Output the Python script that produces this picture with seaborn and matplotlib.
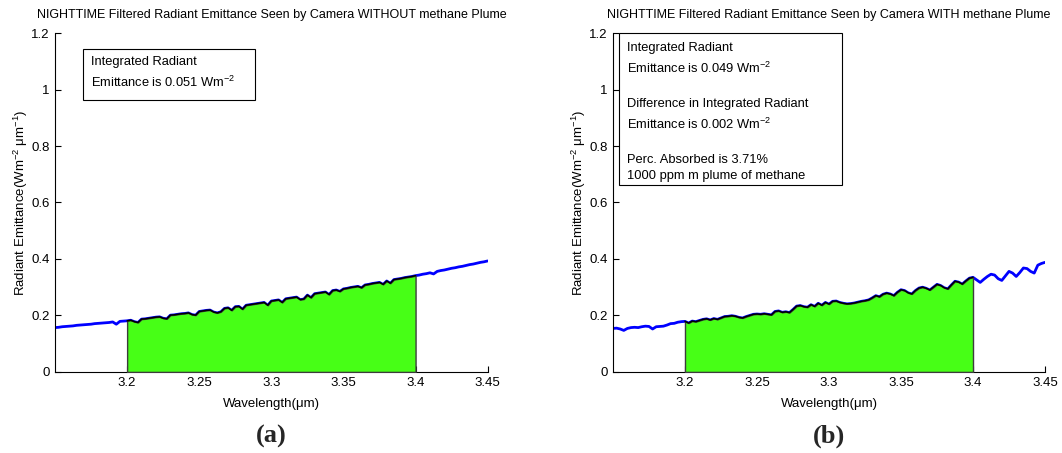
import numpy as np
import pandas as pd
import matplotlib
matplotlib.use("Agg")
import matplotlib.pyplot as plt
from matplotlib.patches import Rectangle
import seaborn as sns

# Radiant emittance spectra (Wm^-2 um^-1) sampled every 0.0025 um from 3.15 to 3.45 um
emittance_without = [
    0.157, 0.158, 0.160, 0.161, 0.162, 0.163, 0.165, 0.166, 0.167, 0.168,
    0.169, 0.171, 0.172, 0.173, 0.174, 0.175, 0.177, 0.169, 0.179, 0.180,
    0.181, 0.183, 0.178, 0.175, 0.187, 0.188, 0.190, 0.192, 0.194, 0.195,
    0.190, 0.188, 0.201, 0.202, 0.204, 0.206, 0.207, 0.209, 0.203, 0.201,
    0.214, 0.216, 0.218, 0.219, 0.212, 0.209, 0.213, 0.225, 0.227, 0.218,
    0.231, 0.232, 0.222, 0.236, 0.238, 0.240, 0.242, 0.244, 0.246, 0.236,
    0.251, 0.253, 0.255, 0.246, 0.259, 0.261, 0.263, 0.265, 0.256, 0.258,
    0.272, 0.263, 0.277, 0.279, 0.281, 0.283, 0.274, 0.288, 0.290, 0.285,
    0.294, 0.296, 0.299, 0.301, 0.303, 0.298, 0.308, 0.310, 0.313, 0.315,
    0.317, 0.310, 0.322, 0.314, 0.327, 0.329, 0.331, 0.334, 0.336, 0.338,
    0.341, 0.343, 0.346, 0.348, 0.351, 0.347, 0.356, 0.359, 0.361, 0.364,
    0.367, 0.369, 0.372, 0.374, 0.377, 0.380, 0.382, 0.385, 0.388, 0.390,
    0.393,
]
emittance_with = [
    0.154, 0.155, 0.152, 0.147, 0.154, 0.157, 0.158, 0.157, 0.160, 0.162,
    0.161, 0.152, 0.160, 0.161, 0.162, 0.166, 0.171, 0.172, 0.176, 0.178,
    0.179, 0.173, 0.180, 0.178, 0.182, 0.186, 0.188, 0.184, 0.189, 0.186,
    0.191, 0.196, 0.197, 0.199, 0.197, 0.193, 0.191, 0.196, 0.200, 0.204,
    0.205, 0.204, 0.206, 0.204, 0.202, 0.214, 0.216, 0.211, 0.213, 0.210,
    0.221, 0.233, 0.235, 0.231, 0.229, 0.238, 0.232, 0.243, 0.236, 0.246,
    0.240, 0.250, 0.251, 0.246, 0.243, 0.241, 0.242, 0.244, 0.247, 0.250,
    0.252, 0.255, 0.262, 0.270, 0.266, 0.275, 0.279, 0.276, 0.270, 0.282,
    0.291, 0.288, 0.280, 0.276, 0.288, 0.297, 0.300, 0.296, 0.290, 0.300,
    0.310, 0.306, 0.298, 0.294, 0.308, 0.321, 0.318, 0.311, 0.322, 0.332,
    0.335, 0.326, 0.317, 0.328, 0.338, 0.346, 0.343, 0.330, 0.324, 0.340,
    0.356, 0.350, 0.338, 0.352, 0.368, 0.366, 0.356, 0.350, 0.378, 0.384,
    0.388,
]
band_start, band_end = 3.20, 3.40
x_ticks = [3.2, 3.25, 3.3, 3.35, 3.4, 3.45]
x_tick_labels = ["3.2", "3.25", "3.3", "3.35", "3.4", "3.45"]
y_ticks = [0, 0.2, 0.4, 0.6, 0.8, 1.0, 1.2]
y_tick_labels = ["0", "0.2", "0.4", "0.6", "0.8", "1", "1.2"]

titles = [
    "NIGHTTIME Filtered Radiant Emittance Seen by Camera WITHOUT methane Plume",
    "NIGHTTIME Filtered Radiant Emittance Seen by Camera WITH methane Plume",
]
box_lines_left = [
    "Integrated Radiant",
    "Emittance is 0.051 Wm$^{-2}$",
]
box_lines_right = [
    "Integrated Radiant",
    "Emittance is 0.049 Wm$^{-2}$",
    "Difference in Integrated Radiant",
    "Emittance is 0.002 Wm$^{-2}$",
    "Perc. Absorbed is 3.71%",
    "1000 ppm m plume of methane",
]
panel_labels = ["(a)", "(b)"]

sns.set_theme(style="white")
plt.rcParams["font.family"] = ["Liberation Sans", "DejaVu Sans"]
plt.rcParams["mathtext.default"] = "regular"

n = len(emittance_without)
wavelength = np.linspace(3.15, 3.45, n)
frames = []
for name, vals in (("without", emittance_without), ("with", emittance_with)):
    frames.append(pd.DataFrame({"wavelength": wavelength, "emittance": vals, "case": name}))
df = pd.concat(frames, ignore_index=True)

fig = plt.figure(figsize=(10.62, 4.53), dpi=100)
ax_left = fig.add_axes([0.0518, 0.179, 0.4074, 0.748])
ax_right = fig.add_axes([0.5772, 0.179, 0.4068, 0.748])

for ax, case, title, plabel in zip(
    (ax_left, ax_right), ("without", "with"), titles, panel_labels
):
    d = df[df["case"] == case]
    band = d[(d["wavelength"] >= band_start - 1e-9) & (d["wavelength"] <= band_end + 1e-9)]

    sns.lineplot(data=d, x="wavelength", y="emittance", ax=ax,
                 color="#0000ff", lw=2.0, zorder=2)
    ax.fill_between(band["wavelength"], 0, band["emittance"],
                    facecolor="#47ff16", edgecolor="#3c3c3c", lw=1.0, zorder=3)
    sns.lineplot(data=band, x="wavelength", y="emittance", ax=ax,
                 color="black", lw=1.1, zorder=4)

    ax.set_xlim(3.15, 3.45)
    ax.set_ylim(0, 1.2)
    ax.set_xticks(x_ticks)
    ax.set_xticklabels(x_tick_labels)
    ax.set_yticks(y_ticks)
    ax.set_yticklabels(y_tick_labels)
    ax.tick_params(direction="in", length=4, width=0.8, colors="black",
                   labelsize=9.5, pad=4, left=True, bottom=True)
    for side in ("top", "right"):
        ax.spines[side].set_visible(False)
    for side in ("left", "bottom"):
        ax.spines[side].set_color("black")
        ax.spines[side].set_linewidth(0.8)

    ax.set_title(title, fontsize=9.0, pad=11, color="black")
    ax.set_xlabel("Wavelength(\u03bcm)", fontsize=9.5, labelpad=6, color="black")
    ax.set_ylabel("Radiant Emittance(Wm$^{-2}$ \u03bcm$^{-1}$)", fontsize=9.5,
                  labelpad=1, color="black")
    ax.grid(False)

    ax.text(0.5, -0.189, plabel, transform=ax.transAxes, ha="center", va="center",
            fontsize=19, fontweight="bold", family=["Liberation Serif", "DejaVu Serif"])


def text_box(ax, x0, x1, y0, y1, tx, line_ys, lines):
    """Framed annotation with lines placed at given axes-fraction heights."""
    ax.add_patch(Rectangle((x0, y0), x1 - x0, y1 - y0, transform=ax.transAxes,
                           facecolor="white", edgecolor="black", lw=0.8,
                           zorder=6, clip_on=False))
    for ly, line in zip(line_ys, lines):
        ax.text(tx, ly, line, transform=ax.transAxes, ha="left", va="center",
                fontsize=9.3, color="black", zorder=7)


def frac(ypx):
    return (372 - ypx) / 339.0


text_box(ax_left, 0.0647, 0.462, frac(100), frac(49), 0.0832,
         [frac(62), frac(82)], box_lines_left)
text_box(ax_right, 0.0139, 0.530, frac(185), frac(33), 0.0317,
         [frac(48), frac(68), frac(104), frac(124), frac(160), frac(176)],
         box_lines_right)

fig.savefig("out.png", dpi=100, facecolor="white")
